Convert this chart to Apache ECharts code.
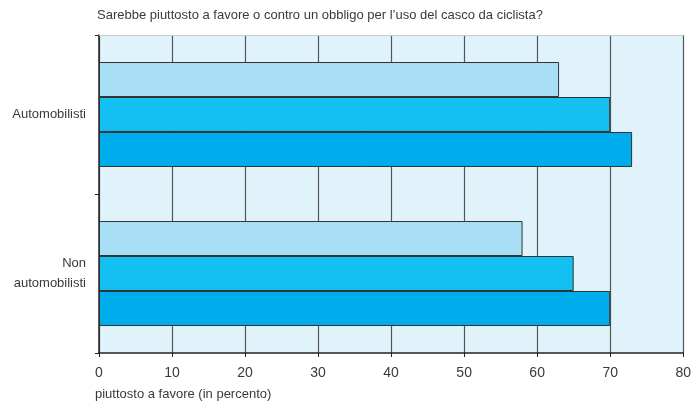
<!DOCTYPE html>
<html><head><meta charset="utf-8">
<script src="https://cdn.jsdelivr.net/npm/echarts@6/dist/echarts.min.js"></script>
<style>html,body{margin:0;padding:0;background:#fff}#c{width:694px;height:405px}</style>
</head><body><div id="c"></div>
<script>
const categories = ['Automobilisti', 'Non\nautomobilisti'];
const series1 = [63, 58];
const series2 = [70, 65];
const series3 = [73, 70];
const xTicks = [0, 10, 20, 30, 40, 50, 60, 70, 80];
const title = 'Sarebbe piuttosto a favore o contro un obbligo per l’uso del casco da ciclista?';
const xName = 'piuttosto a favore (in percento)';

const font = 'Liberation Sans';
const chart = echarts.init(document.getElementById('c'), null, {renderer: 'canvas'});
const mk = (data, color) => ({
  type: 'bar', data, barGap: '0%', barCategoryGap: '34%',
  itemStyle: {color, borderColor: '#333', borderWidth: 1},
  xAxisIndex: 0, yAxisIndex: 0, silent: true
});
chart.setOption({
  animation: false,
  textStyle: {fontFamily: font},
  title: {text: title, left: 92, top: 4, textStyle: {fontFamily: font, fontSize: 13, fontWeight: 'normal', color: '#3a3a3a'}},
  grid: {left: 99, right: 9, top: 35, bottom: 52, show: true, backgroundColor: '#e0f3fb', borderWidth: 0},
  xAxis: [{
    type: 'value', min: xTicks[0], max: xTicks[xTicks.length - 1], interval: 10,
    axisLine: {show: true, lineStyle: {color: '#222', width: 1.5}},
    axisTick: {show: true, length: 4, lineStyle: {color: '#222'}},
    axisLabel: {color: '#3a3a3a', fontSize: 14, margin: 13, fontFamily: font},
    splitLine: {show: true, lineStyle: {color: '#555', width: 1.2}},
    name: xName, nameLocation: 'start', nameGap: 0,
    nameTextStyle: {color: '#3a3a3a', fontSize: 13, align: 'left', verticalAlign: 'top', padding: [35, 0, 0, -4], fontFamily: font}
  }, {
    type: 'value', position: 'top', min: 0, max: 80, interval: 10,
    axisLine: {show: true, lineStyle: {color: '#ccc', width: 1}},
    axisTick: {show: false}, axisLabel: {show: false}, splitLine: {show: false}
  }],
  yAxis: [{
    type: 'category', data: categories, inverse: true,
    axisLine: {show: true, lineStyle: {color: '#222', width: 1.5}},
    axisTick: {show: true, length: 4, lineStyle: {color: '#222'}},
    axisLabel: {color: '#3a3a3a', fontSize: 13, margin: 13, lineHeight: 20, align: 'right', fontFamily: font},
    splitLine: {show: false}
  }],
  series: [mk(series1, '#a9dff4'), mk(series2, '#14c0f1'), mk(series3, '#00adec')]
});
</script></body></html>
